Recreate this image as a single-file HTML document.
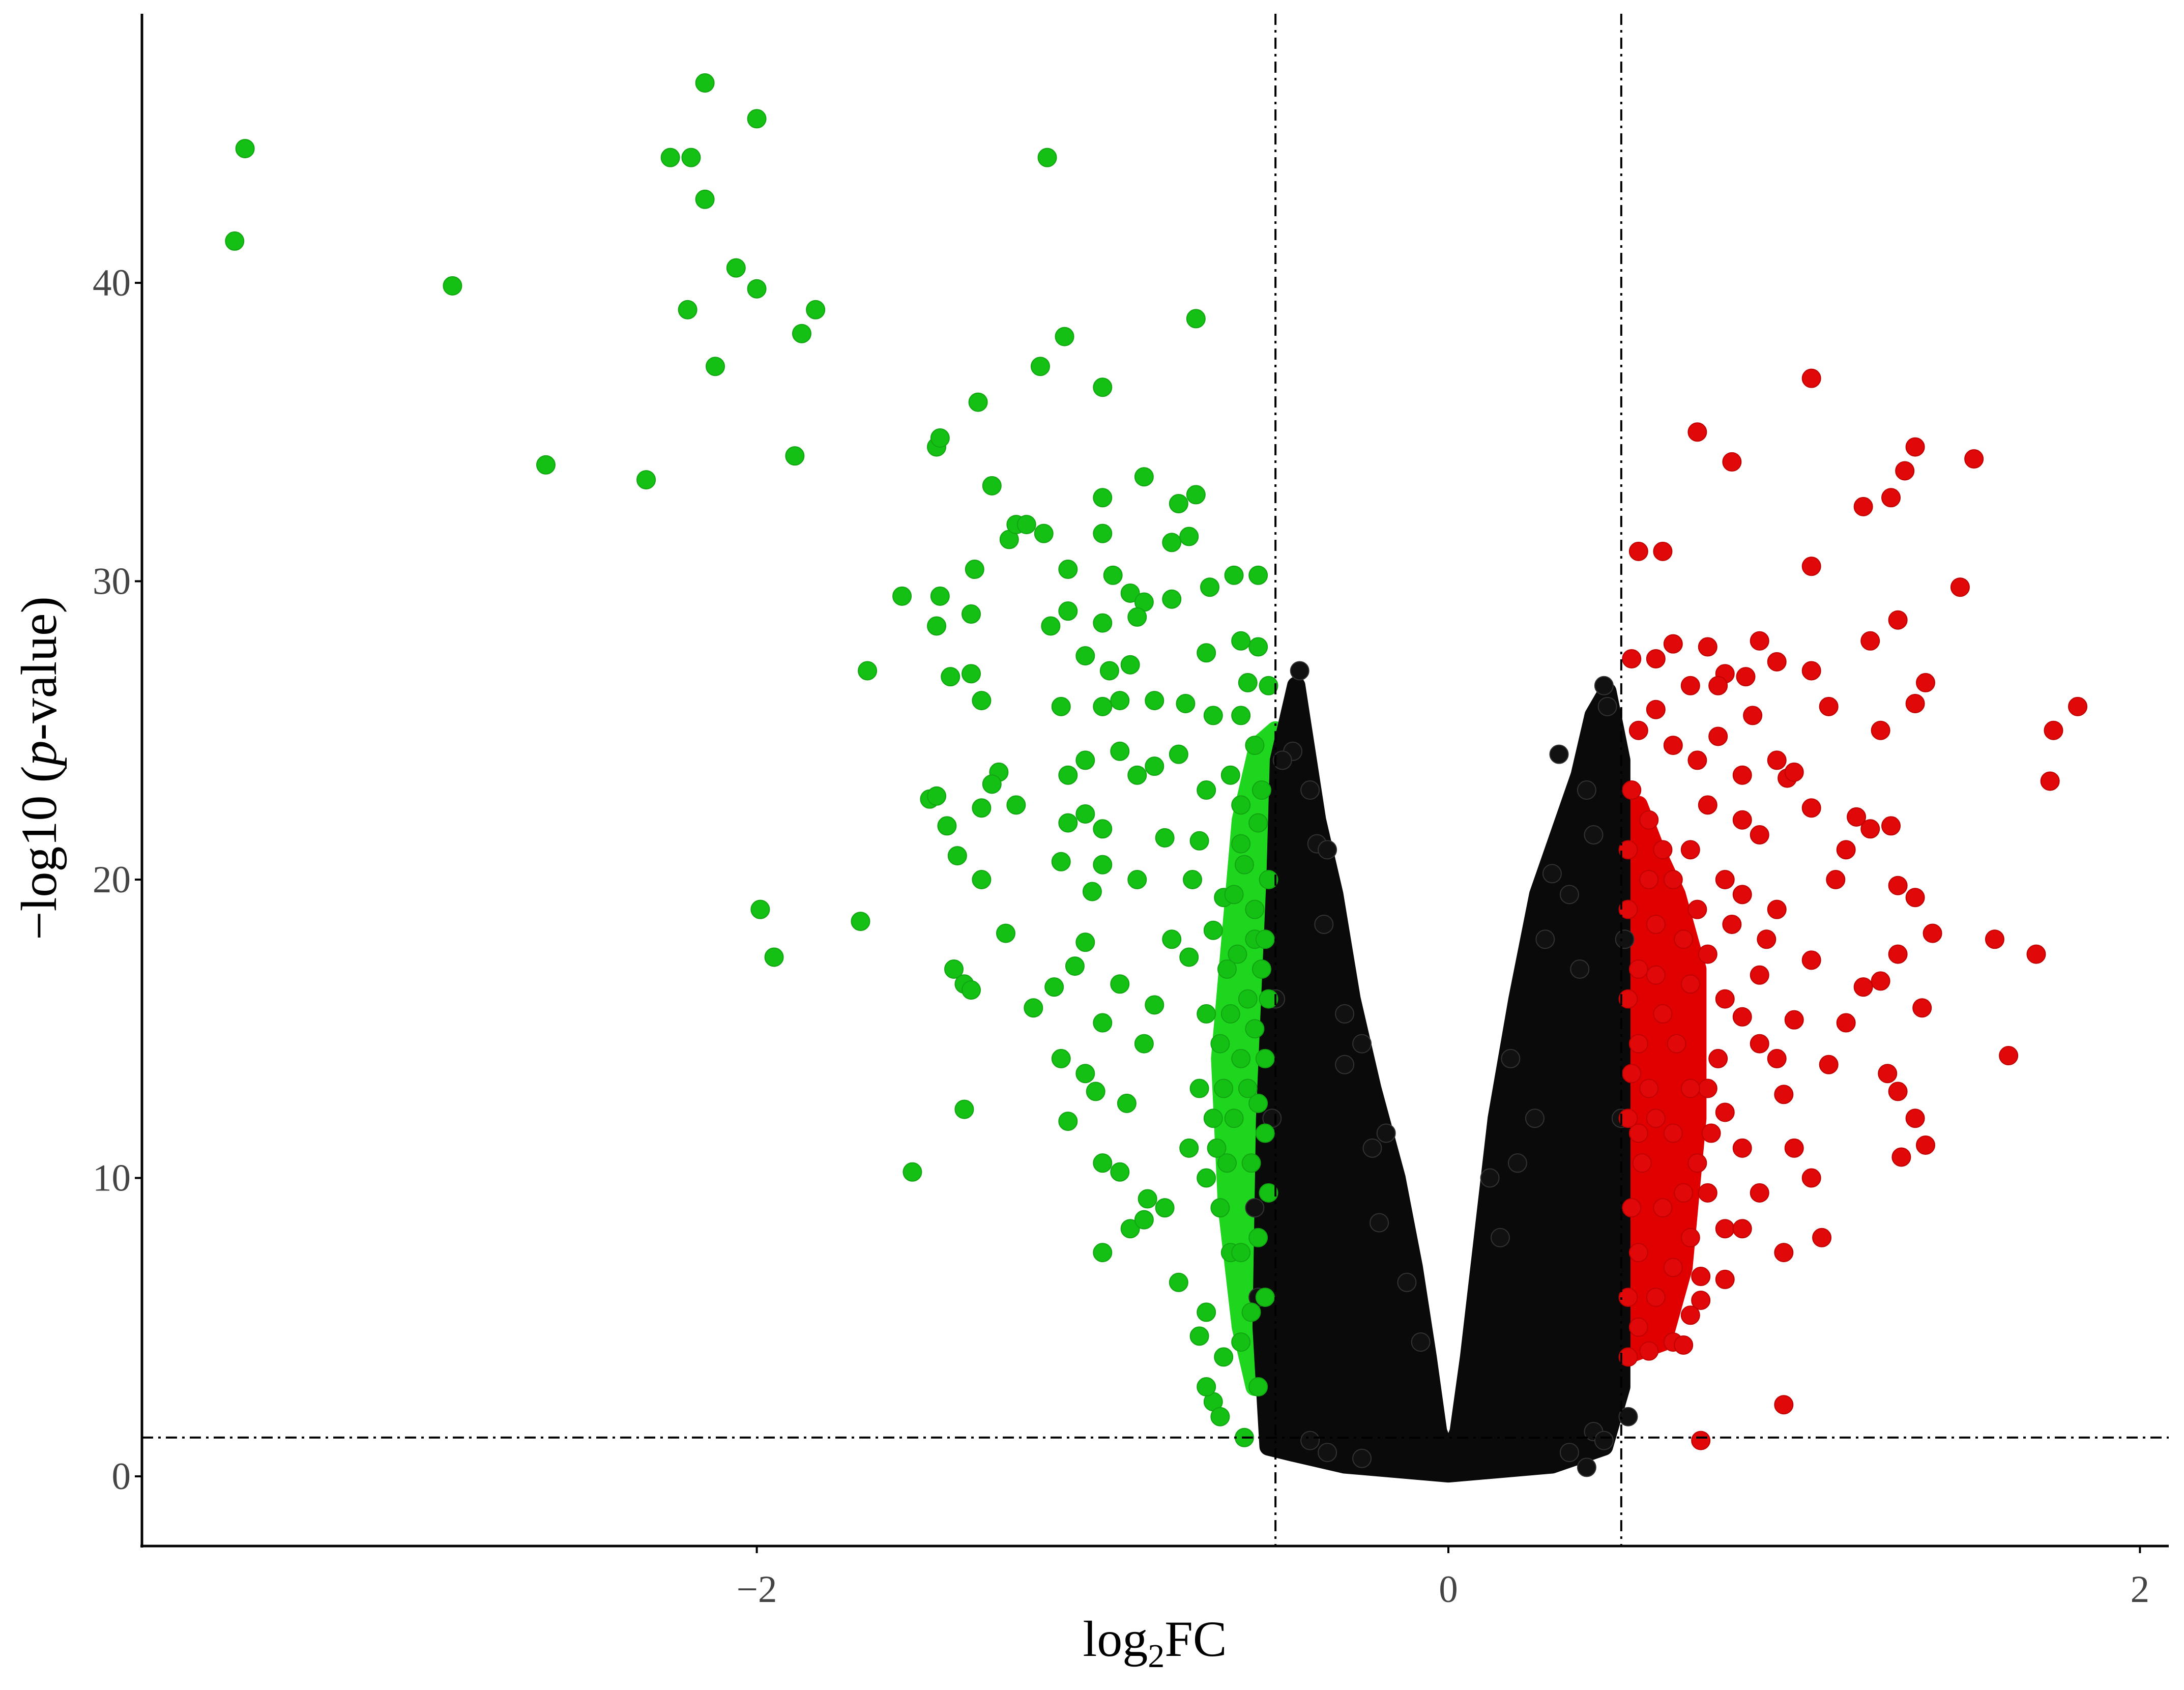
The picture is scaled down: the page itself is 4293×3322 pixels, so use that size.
<!DOCTYPE html>
<html><head><meta charset="utf-8"><style>
html,body{margin:0;padding:0;background:#fff}
svg{display:block}
text{font-family:"Liberation Serif",serif}
</style></head><body>
<svg id="chart" width="4293" height="3322" viewBox="0 0 4293 3322" xmlns="http://www.w3.org/2000/svg">
<g id="layer-dense"></g>
<g id="layer-points"></g>
<g id="layer-axes"></g>
</svg>
<script>
const xTicks=[-2,0,2];
const xTickLabels=["\u22122","0","2"];
const yTicks=[0,10,20,30,40];
const yTickLabels=["0","10","20","30","40"];
const fcThreshold=[-0.5,0.5];
const pThreshold=1.3;
const blackEnvelope=[[-0.52,1],[-0.54,5],[-0.53,12],[-0.5,20],[-0.49,24],[-0.44,26.5],[-0.42,25],[-0.38,22],[-0.33,19.5],[-0.28,16],[-0.22,13],[-0.15,10],[-0.1,7],[-0.06,4],[-0.03,1.5],[0,0.6],[0.03,1.5],[0.06,4],[0.1,8],[0.14,12],[0.2,16],[0.26,19.5],[0.32,21.5],[0.38,23.5],[0.42,25.5],[0.46,26.3],[0.5,24],[0.5,3],[0.45,1],[0.3,0.4],[0,0.1],[-0.3,0.4],[-0.45,0.8]];
const greenEnvelope=[[-0.5,3],[-0.5,25],[-0.55,24.5],[-0.6,22],[-0.63,18],[-0.66,14],[-0.64,9],[-0.6,5],[-0.56,3]];
const redEnvelope=[[0.5,4],[0.5,22],[0.55,22.5],[0.6,21],[0.66,19.5],[0.72,17],[0.72,12],[0.68,7],[0.62,4.5]];
const blackPoints=[[-0.43,27],[-0.45,24.3],[-0.48,24],[-0.4,23],[-0.38,21.2],[-0.36,18.5],[-0.3,15.5],[-0.3,13.8],[-0.22,11],[-0.18,11.5],[-0.25,14.5],[-0.35,21],[-0.4,1.2],[-0.35,0.8],[-0.25,0.6],[-0.2,8.5],[-0.12,6.5],[-0.08,4.5],[0.45,26.5],[0.46,25.8],[0.32,24.2],[0.4,23],[0.42,21.5],[0.35,19.5],[0.3,20.2],[0.38,17],[0.25,12],[0.2,10.5],[0.15,8],[0.12,10],[0.18,14],[0.28,18],[0.4,0.3],[0.42,1.5],[0.45,1.2],[0.35,0.8],[-0.5,16],[-0.51,12],[0.5,12],[0.51,18],[-0.55,6],[-0.56,9],[0.52,2]];
const greenPoints=[[-3.48,44.5],[-3.51,41.4],[-2.88,39.9],[-2.61,33.9],[-2.32,33.4],[-2.15,46.7],[-2.25,44.2],[-2.19,44.2],[-2.15,42.8],[-2.0,45.5],[-2.06,40.5],[-2.0,39.8],[-2.2,39.1],[-2.12,37.2],[-1.87,38.3],[-1.83,39.1],[-1.89,34.2],[-1.16,44.2],[-1.11,38.2],[-1.18,37.2],[-1.0,36.5],[-0.73,38.8],[-1.99,19],[-1.95,17.4],[-1.7,18.6],[-1.68,27],[-1.55,10.2],[-1.4,12.3],[-1.58,29.5],[-1.47,29.5],[-1.48,28.5],[-1.44,26.8],[-1.38,26.9],[-1.5,22.7],[-1.48,22.8],[-1.45,21.8],[-1.48,34.5],[-1.47,34.8],[-1.36,36],[-1.32,33.2],[-1.27,31.4],[-1.25,31.9],[-1.22,31.9],[-1.17,31.6],[-1.37,30.4],[-1.38,28.9],[-1.1,30.4],[-1.0,32.8],[-1.0,31.6],[-0.88,33.5],[-0.78,32.6],[-0.73,32.9],[-0.8,31.3],[-0.75,31.5],[-0.97,30.2],[-0.92,29.6],[-0.88,29.3],[-1.1,29.0],[-1.15,28.5],[-1.0,28.6],[-0.9,28.8],[-0.8,29.4],[-0.69,29.8],[-0.62,30.2],[-0.55,30.2],[-0.6,28],[-0.55,27.8],[-0.7,27.6],[-1.05,27.5],[-0.98,27],[-0.92,27.2],[-1.35,26],[-1.3,23.6],[-1.32,23.2],[-1.25,22.5],[-1.35,22.4],[-1.42,20.8],[-1.35,20],[-1.43,17],[-1.4,16.5],[-1.38,16.3],[-1.28,18.2],[-1.2,15.7],[-1.12,20.6],[-1.1,21.9],[-1.05,22.2],[-1.0,21.7],[-1.03,19.6],[-1.0,20.5],[-1.1,23.5],[-1.05,24],[-0.95,24.3],[-0.9,23.5],[-0.85,23.8],[-0.78,24.2],[-1.12,25.8],[-1.0,25.8],[-0.95,26],[-0.85,26],[-0.76,25.9],[-0.68,25.5],[-1.14,16.4],[-1.08,17.1],[-1.05,17.9],[-1.0,15.2],[-0.95,16.5],[-1.12,14],[-1.05,13.5],[-1.02,12.9],[-1.1,11.9],[-1.0,10.5],[-0.95,10.2],[-1.0,7.5],[-0.92,8.3],[-0.88,8.6],[-0.87,9.3],[-0.82,9.0],[-0.93,12.5],[-0.88,14.5],[-0.85,15.8],[-0.78,6.5],[-0.72,4.7],[-0.7,5.5],[-0.65,4],[-0.68,2.5],[-0.7,3],[-0.66,2],[-0.59,1.3],[-0.63,7.5],[-0.6,7.5],[-0.8,18],[-0.75,17.4],[-0.68,18.3],[-0.65,19.4],[-0.9,20],[-0.82,21.4],[-0.72,21.3],[-0.6,21.2],[-0.55,21.9],[-0.56,18],[-0.58,16],[-0.6,14],[-0.62,12],[-0.64,10.5],[-0.66,9],[-0.57,10.5],[-0.55,12.5],[-0.53,14],[-0.52,16],[-0.53,18],[-0.52,20],[-0.54,23],[-0.56,24.5],[-0.6,25.5],[-0.63,23.5],[-0.58,26.6],[-0.52,26.5],[-0.7,15.5],[-0.72,13],[-0.75,11],[-0.7,10],[-0.68,12],[-0.66,14.5],[-0.64,17],[-0.62,19.5],[-0.6,22.5],[-0.7,23],[-0.74,20],[-0.55,8],[-0.53,6],[-0.52,9.5],[-0.57,5.5],[-0.6,4.5],[-0.55,3],[-0.53,11.5],[-0.58,13],[-0.56,15],[-0.54,17],[-0.56,19],[-0.59,20.5],[-0.61,17.5],[-0.63,15.5],[-0.65,13],[-0.67,11]];
const redPoints=[[1.05,36.8],[0.72,35],[0.82,34],[1.35,34.5],[1.32,33.7],[1.52,34.1],[1.28,32.8],[1.2,32.5],[1.48,29.8],[1.05,30.5],[0.55,31],[0.62,31],[0.6,27.4],[0.53,27.4],[0.75,27.8],[0.65,27.9],[0.8,26.9],[0.78,26.5],[0.86,26.8],[0.7,26.5],[0.9,28],[0.95,27.3],[1.05,27],[1.22,28],[1.3,28.7],[1.38,26.6],[1.35,25.9],[1.75,25],[1.82,25.8],[1.74,23.3],[1.25,25],[1.1,25.8],[0.6,25.7],[0.55,25],[0.65,24.5],[0.72,24],[0.85,23.5],[0.95,24],[0.98,23.4],[1.0,23.6],[1.05,22.4],[1.18,22.1],[1.22,21.7],[1.28,21.8],[1.15,21],[1.12,20],[1.3,19.8],[1.35,19.4],[1.4,18.2],[1.58,18],[1.7,17.5],[1.62,14.1],[1.3,17.5],[1.2,16.4],[1.25,16.6],[1.37,15.7],[1.05,17.3],[1.15,15.2],[0.95,14],[1.0,15.3],[1.1,13.8],[1.27,13.5],[1.3,12.9],[1.35,12],[1.38,11.1],[1.31,10.7],[0.97,12.8],[1.0,11],[1.05,10],[1.08,8],[0.97,7.5],[0.97,2.4],[0.73,1.2],[0.8,8.3],[0.8,6.6],[0.73,6.7],[0.73,5.9],[0.85,8.3],[0.9,9.5],[0.85,11],[0.8,12.2],[0.75,13],[0.9,14.5],[0.85,15.4],[0.8,16],[0.9,16.8],[0.92,18],[0.95,19],[0.85,19.5],[0.8,20],[0.9,21.5],[0.85,22],[0.75,22.5],[0.7,21],[0.65,20],[0.6,18.5],[0.55,17],[0.52,16],[0.55,14.5],[0.58,13],[0.6,12],[0.56,10.5],[0.53,9],[0.55,7.5],[0.6,6],[0.55,5],[0.58,4.2],[0.65,4.5],[0.68,4.4],[0.7,5.4],[0.65,7],[0.7,8],[0.68,9.5],[0.72,10.5],[0.65,11.5],[0.7,13],[0.66,14.5],[0.62,15.5],[0.7,16.5],[0.75,17.5],[0.68,18],[0.72,19],[0.62,21],[0.58,22],[0.53,23],[0.52,21],[0.52,19],[0.52,12],[0.52,6],[0.52,4],[0.78,24.8],[0.88,25.5],[0.58,20],[0.6,16.8],[0.62,9],[0.78,14],[0.76,11.5],[0.82,18.5],[0.75,9.5],[0.55,11.5],[0.53,13.5]];

const NS="http://www.w3.org/2000/svg";
const X0=279,X1=4263,Y0=27,Y1=3039;
function sx(v){return 2847+v*679.7;}
function sy(v){return 2902-v*58.65;}
const R=18;
function mk(tag,parent){const e=document.createElementNS(NS,tag);document.getElementById(parent).appendChild(e);return e;}
function envelope(arr,fill,name){
  const p=mk('polygon','layer-dense');
  
  
  p.setAttribute('points',arr.map(d=>sx(d[0])+','+sy(d[1])).join(' '));
  p.setAttribute('fill',fill);p.setAttribute('stroke',fill);
  p.setAttribute('stroke-width',2*R);p.setAttribute('stroke-linejoin','round');
}
envelope(greenEnvelope,'#1fd61f','green-dense-region');
envelope(redEnvelope,'#e00000','red-dense-region');
envelope(blackEnvelope,'#0a0a0a','black-dense-region');
function pts(arr,fill,stroke,name){
  arr.forEach(d=>{
    const c=mk('circle','layer-points');
    
    
    c.setAttribute('cx',sx(d[0]));c.setAttribute('cy',sy(d[1]));c.setAttribute('r',R);
    c.setAttribute('fill',fill);c.setAttribute('stroke',stroke);c.setAttribute('stroke-width',2);
  });
}
pts(blackPoints,'#111','#333','point-ns');
pts(greenPoints,'#15c015','#11a511','point-down');
pts(redPoints,'#e00808','#c00000','point-up');
function line(x1,y1,x2,y2,w,dash,name){
  const l=mk('line','layer-axes');
  
  
  l.setAttribute('x1',x1);l.setAttribute('y1',y1);l.setAttribute('x2',x2);l.setAttribute('y2',y2);
  l.setAttribute('stroke','#000');l.setAttribute('stroke-width',w);
  if(dash)l.setAttribute('stroke-dasharray',dash);
}
fcThreshold.forEach(v=>line(sx(v),Y0,sx(v),Y1,4,'22,10,5,10','fc-threshold-line'));
line(X0,sy(pThreshold),X1,sy(pThreshold),4,'22,10,5,10','p-threshold-line');
line(X0,Y0,X0,Y1+3,5,null,'y-axis-line');
line(X0-3,Y1,X1,Y1,5,null,'x-axis-line');
function txt(s,x,y,size,anchor,fill,name){
  const t=mk('text','layer-axes');
  
  
  t.setAttribute('x',x);t.setAttribute('y',y);t.setAttribute('font-size',size);
  t.setAttribute('text-anchor',anchor);t.setAttribute('fill',fill);t.textContent=s;return t;
}
xTicks.forEach((v,i)=>{line(sx(v),Y1,sx(v),Y1+14,4,null,'x-tick');txt(xTickLabels[i],sx(v),Y1+110,75,'middle','#444','x-tick-label');});
yTicks.forEach((v,i)=>{line(X0-14,sy(v),X0,sy(v),4,null,'y-tick');txt(yTickLabels[i],X0-22,sy(v)+25,75,'end','#444','y-tick-label');});
const xt=mk('text','layer-axes');


xt.setAttribute('x',2270);xt.setAttribute('y',3255);xt.setAttribute('font-size',100);xt.setAttribute('text-anchor','middle');
xt.innerHTML='log<tspan font-size="66" dy="22">2</tspan><tspan dy="-22">FC</tspan>';
const yt=mk('text','layer-axes');


yt.setAttribute('transform','translate(110,1510) rotate(-90)');
yt.setAttribute('font-size',100);yt.setAttribute('text-anchor','middle');
yt.innerHTML='\u2212log10 (<tspan font-style="italic">p</tspan>-value)';
</script>
</body></html>
